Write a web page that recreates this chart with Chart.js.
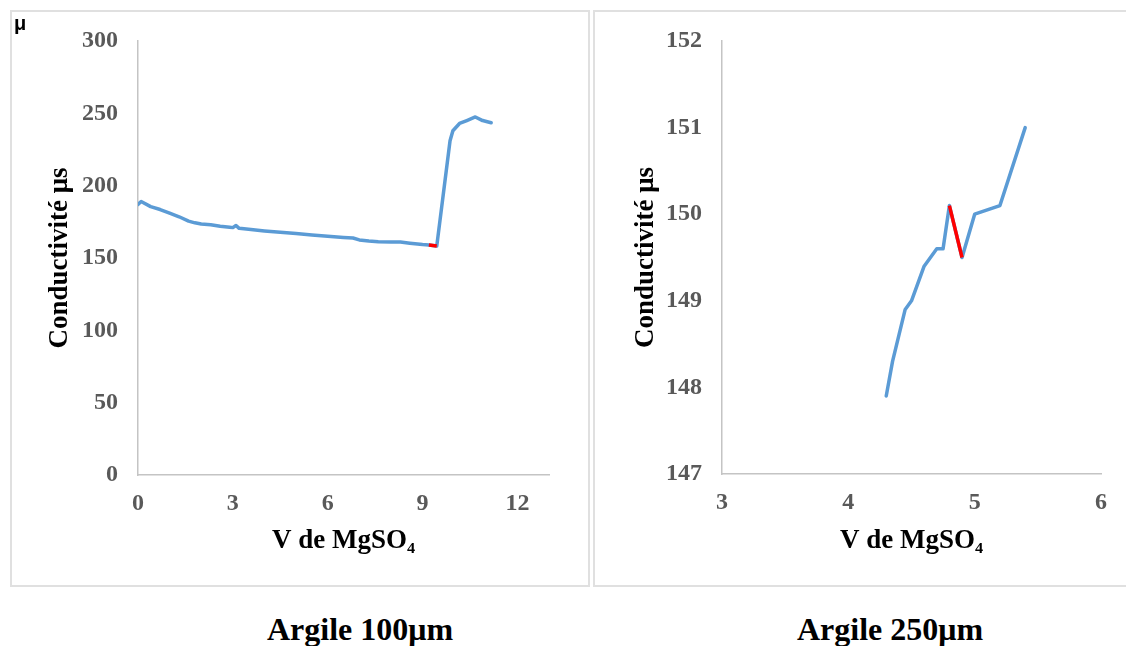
<!DOCTYPE html>
<html>
<head>
<meta charset="utf-8">
<script src="https://cdn.jsdelivr.net/npm/chart.js@4.4.1/dist/chart.umd.min.js"></script>
<style>
  html, body { margin: 0; padding: 0; background: #fff; overflow: hidden; }
  body { width: 1126px; height: 646px; position: relative; font-family: "Liberation Serif", "Times New Roman", serif; }
  .panel { position: absolute; top: 10px; border: 2px solid #e0e0e0; background: #fff; }
  .panel canvas { display: block; }
  .caption { position: absolute; top: 611px; font-weight: bold; font-size: 32px; color: #000; text-align: center; width: 400px; }
  .mu { position: absolute; left: 14px; top: 12px; font-family: "Liberation Sans", Arial, sans-serif; font-weight: bold; font-size: 20px; }
</style>
</head>
<body>
<div class="panel" style="left:10px; width:576px; height:573px;"><canvas id="leftChart" width="576" height="573"></canvas></div>
<div class="panel" style="left:593px; width:535px; height:573px;"><canvas id="rightChart" width="535" height="573"></canvas></div>
<div class="mu">μ</div>
<div class="caption" style="left:160px;">Argile 100μm</div>
<div class="caption" style="left:690px;">Argile 250μm</div>
<script>
// Argile 100µm : conductivité vs volume de MgSO4
const leftX = [0, 0.1, 0.4, 0.7, 1.0, 1.3, 1.6, 1.8, 2.0, 2.3, 2.6, 2.9, 3.0, 3.1, 3.2, 3.5, 4.0, 4.5, 5.0, 5.5, 6.0, 6.5, 6.8, 7.0, 7.3, 7.6, 8.0, 8.3, 8.6, 9.0, 9.2, 9.45, 9.87, 9.96, 10.17, 10.4, 10.67, 10.9, 11.17];
const leftY = [187, 189, 185.5, 183.5, 181, 178.5, 175.5, 174.3, 173.5, 173, 172, 171.3, 171, 172.5, 170.5, 169.8, 168.7, 167.8, 166.9, 165.9, 165, 164.2, 163.8, 162.5, 161.7, 161.3, 161, 161, 160.2, 159.3, 159, 158.3, 231, 238, 243, 245, 247.5, 245, 243.5];
const leftRedX = [9.2, 9.45];
const leftRedY = [159, 158.3];
const leftXTicks = [0, 3, 6, 9, 12];
const leftYTicks = [0, 50, 100, 150, 200, 250, 300];

// Argile 250µm
const rightX = [4.3, 4.35, 4.45, 4.5, 4.6, 4.7, 4.75, 4.8, 4.9, 5.0, 5.2, 5.4];
const rightY = [147.9, 148.3, 148.9, 149.0, 149.4, 149.6, 149.6, 150.1, 149.5, 150.0, 150.1, 151.0];
const rightRedX = [4.8, 4.9];
const rightRedY = [150.1, 149.5];
const rightXTicks = [3, 4, 5, 6];
const rightYTicks = [147, 148, 149, 150, 151, 152];

const toPoints = (xs, ys) => xs.map((x, i) => ({ x: x, y: ys[i] }));

function makeChart(id, opts) {
  const ctx = document.getElementById(id).getContext("2d");
  const tickFont = { family: "Liberation Serif", size: 24, weight: "bold" };
  const titleFont = { family: "Liberation Serif", size: 27, weight: "bold" };
  return new Chart(ctx, {
    type: "line",
    data: {
      datasets: [{
        data: toPoints(opts.x, opts.y),
        borderColor: "#5b9bd5",
        borderWidth: 3.5,
        pointRadius: 0,
        tension: 0,
        order: 2,
        borderCapStyle: "round",
        borderJoinStyle: "round"
      }, {
        // segment surligné en rouge
        data: toPoints(opts.redX, opts.redY),
        borderColor: "#ff0000",
        borderWidth: 3.5,
        pointRadius: 0,
        tension: 0,
        order: 1,
        borderCapStyle: "butt"
      }]
    },
    options: {
      responsive: false,
      animation: false,
      layout: { padding: { top: 29, right: opts.padRight, left: 0, bottom: 0 } },
      plugins: { legend: { display: false }, tooltip: { enabled: false } },
      scales: {
        x: {
          type: "linear",
          min: opts.xMin, max: opts.xMax,
          grid: { display: false, drawTicks: false },
          border: { display: true, color: "#c4c4c4", width: 1.5 },
          afterBuildTicks: s => { s.ticks = opts.xTicks.map(v => ({ value: v })); },
          afterFit: s => { s.height = opts.xHeight; },
          ticks: { color: "#595959", font: tickFont, padding: 14, maxRotation: 0 },
          title: { display: true, text: "V de MgSO₄", color: "#000", font: titleFont, padding: { top: 0, bottom: 28 } }
        },
        y: {
          min: opts.yMin, max: opts.yMax,
          grid: { display: false, drawTicks: false },
          border: { display: true, color: "#c4c4c4", width: 1.5 },
          afterBuildTicks: s => { s.ticks = opts.yTicks.map(v => ({ value: v })); },
          afterFit: s => { s.width = opts.yWidth; s.paddingTop = 0; s.paddingBottom = 0; },
          ticks: { color: "#595959", font: tickFont, padding: 20 },
          title: { display: true, text: "Conductivité μs", color: "#000", font: titleFont, padding: { top: opts.yTitlePad, bottom: 0 } }
        }
      }
    }
  });
}

makeChart("leftChart", {
  x: leftX, y: leftY, redX: leftRedX, redY: leftRedY,
  xTicks: leftXTicks, yTicks: leftYTicks,
  xMin: 0, xMax: 13, yMin: 0, yMax: 300,
  padRight: 39, xHeight: 110, yWidth: 126, yTitlePad: 32
});

makeChart("rightChart", {
  x: rightX, y: rightY, redX: rightRedX, redY: rightRedY,
  xTicks: rightXTicks, yTicks: rightYTicks,
  xMin: 3, xMax: 6, yMin: 147, yMax: 152,
  padRight: 29, xHeight: 111, yWidth: 127, yTitlePad: 35
});
</script>
</body>
</html>
